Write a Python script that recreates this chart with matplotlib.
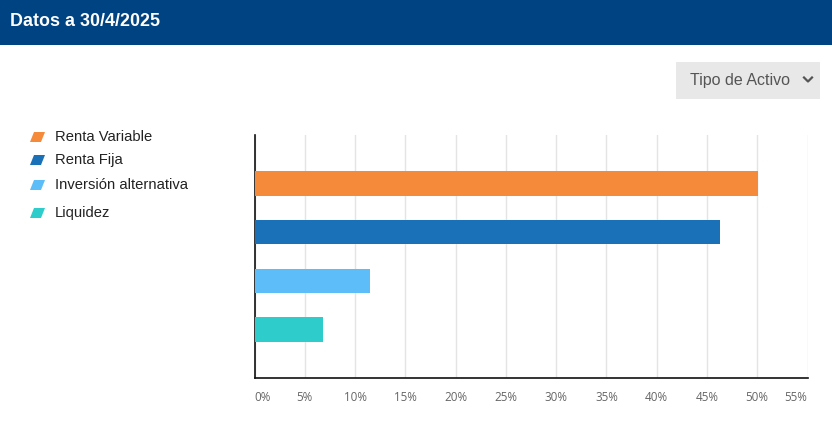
import matplotlib
matplotlib.use("Agg")
import matplotlib.pyplot as plt
from matplotlib.patches import Rectangle, Polygon

# data
categorias = ["Renta Variable", "Renta Fija", "Inversión alternativa", "Liquidez"]
valores = [50.1, 46.3, 11.5, 6.8]
colores = ["#f58a3b", "#1a71b7", "#5cbdf9", "#2fcccc"]
ticks_x = [0, 5, 10, 15, 20, 25, 30, 35, 40, 45, 50, 55]
titulo = "Datos a 30/4/2025"
selector = "Tipo de Activo"

W, H = 832, 436
fig = plt.figure(figsize=(W / 100, H / 100), dpi=100)
fig.patch.set_facecolor("white")

def px(x, y):
    # pixel coords (top-left origin) -> figure fraction
    return x / W, 1 - y / H

# header band
fig.patches.append(Rectangle(px(0, 45), 1, 45 / H, transform=fig.transFigure,
                             facecolor="#004382", edgecolor="none"))
fig.text(*px(10, 22), titulo, color="white", fontsize=12.9, fontweight="bold",
         family="Liberation Sans", va="center", ha="left")

# dropdown box
fig.patches.append(Rectangle(px(676, 99), 144 / W, 37 / H, transform=fig.transFigure,
                             facecolor="#e8e8e8", edgecolor="none"))
fig.text(*px(690, 80), selector, color="#555555", fontsize=11.5,
         family="Liberation Sans", va="center", ha="left")
fig.lines.append(plt.Line2D([px(804, 0)[0], px(808, 0)[0], px(812, 0)[0]],
                            [px(0, 77.5)[1], px(0, 81.5)[1], px(0, 77.5)[1]],
                            transform=fig.transFigure, color="#555555", lw=1.6))

# legend
leg_y = [137, 160, 185, 213]
for nombre, col, y in zip(categorias, colores, leg_y):
    pts = [px(30, y + 5), px(41, y + 5), px(45, y - 5), px(34, y - 5)]
    fig.patches.append(Polygon(pts, closed=True, transform=fig.transFigure,
                               facecolor=col, edgecolor="none"))
    fig.text(*px(55, y), nombre, color="#222222", fontsize=10.6,
             family="Liberation Sans", va="center", ha="left")

# bar chart
l, r, t, b = 254.5, 807.5, 135, 378
ax = fig.add_axes([l / W, (H - b) / H, (r - l) / W, (b - t) / H])
pos = list(range(1, len(categorias) + 1))
ax.barh(pos, valores, height=0.5, color=colores, zorder=3)
ax.set_ylim(5, 0)
ax.set_xlim(0, 55)
ax.set_xticks(ticks_x)
ax.set_xticklabels([f"{v}%" for v in ticks_x])
ax.set_yticks([])
ax.grid(axis="x", color="#e4e4e4", lw=1, zorder=0)
for s in ["top", "right"]:
    ax.spines[s].set_visible(False)
for s in ["left", "bottom"]:
    ax.spines[s].set_color("#111111")
    ax.spines[s].set_linewidth(1.2)
ax.tick_params(axis="x", length=0, pad=9, labelsize=8.4, labelcolor="#666666")
for lab in ax.get_xticklabels():
    lab.set_family("Open Sans")
ax.get_xticklabels()[0].set_horizontalalignment("left")
ax.get_xticklabels()[-1].set_horizontalalignment("right")

fig.savefig("out.png", dpi=100)
